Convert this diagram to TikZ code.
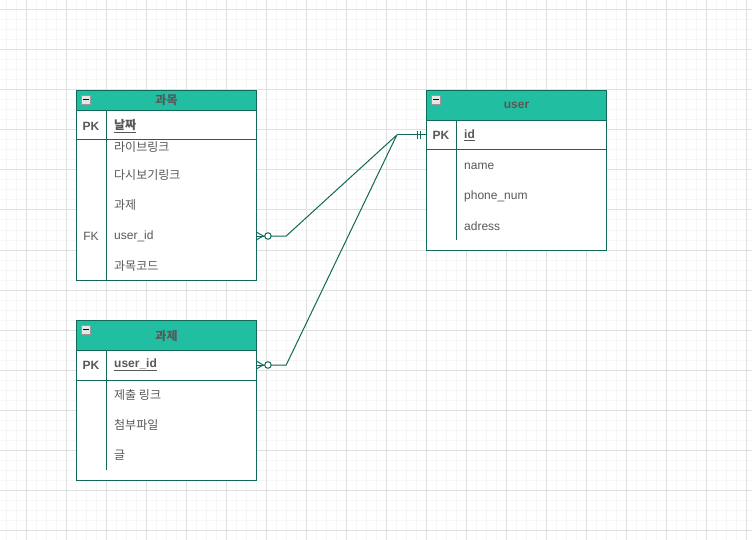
\documentclass[tikz,border=0pt]{standalone}
\usepackage{fontspec}
\setmainfont{Liberation Sans}
\newfontfamily\kr{Noto Sans CJK KR}
\definecolor{hc}{RGB}{34,190,161}
\definecolor{lc}{RGB}{16,104,86}
\definecolor{tc}{RGB}{88,88,88}
\definecolor{gmin}{RGB}{246,246,246}
\definecolor{gmaj}{RGB}{224,224,224}
\begin{document}
\begin{tikzpicture}[x=1pt,y=-1pt,
  ln/.style={draw=lc,line width=1pt},
  hdr/.style={fill=hc,draw=lc,line width=1pt,anchor=north west,minimum width=180pt,inner sep=0pt,text=tc,font=\fontsize{12}{14}\selectfont\bfseries},
  fld/.style={anchor=west,inner sep=0pt,text=tc,font=\fontsize{12}{14}\selectfont},
  key/.style={inner sep=0pt,text=tc,font=\fontsize{12}{14}\selectfont},
  rowmark/.style={minimum width=180pt,minimum height=30pt,inner sep=0pt},
  conn/.style={draw=lc,line width=1pt},
  icon/.style={draw=gray!80,fill=gray!20,line width=0.6pt,minimum size=9pt,inner sep=0pt,anchor=north west}
]
\useasboundingbox (0,0) rectangle (752,540);
\fill[white] (0,0) rectangle (752,540);
% grid
\foreach \x in {6,16,...,746} \draw[gmin,line width=1pt] (\x,0) -- (\x,540);
\foreach \y in {0,10,...,540} \draw[gmin,line width=1pt] (0,\y) -- (752,\y);
\foreach \x in {26,66,...,746} \draw[gmaj,line width=1pt] (\x,0) -- (\x,540);
\foreach \y in {10,50,...,530} \draw[gmaj,line width=1pt] (0,\y) -- (752,\y);

% ---------- Table 과목 ----------
\node[ln,fill=white,anchor=north west,minimum width=180pt,minimum height=190pt,inner sep=0pt] (t1) at (76,90) {};
\node[hdr,minimum height=20pt] (t1h) at (76,90) {\kr 과목};
\node[icon] (t1i) at (81,95) {};
\draw[black,line width=1.2pt] ([xshift=2pt]t1i.west) -- ([xshift=-2pt]t1i.east);
\draw[ln] (76,140) -- (256,140);
\draw[ln] (106,110) -- (106,280);
\node[key,font=\fontsize{12}{14}\selectfont\bfseries] (t1pk) at (91,126) {PK};
\node[fld,font=\fontsize{12}{14}\selectfont\bfseries] (t1f0) at (114,126) {\kr\underline{날짜}};
\node[fld] (t1f1) at (114,147) {\kr 라이브링크};
\node[fld] (t1f2) at (114,175) {\kr 다시보기링크};
\node[fld] (t1f3) at (114,205) {\kr 과제};
\node[key] (t1fk) at (91,236) {FK};
\node[fld] (t1f4) at (114,236) {user\_id};
\node[fld] (t1f5) at (114,266) {\kr 과목코드};
\node[rowmark] (t1uid) at (166,236) {};

% ---------- Table user ----------
\node[ln,fill=white,anchor=north west,minimum width=180pt,minimum height=160pt,inner sep=0pt] (t2) at (426,90) {};
\node[hdr,minimum height=30pt] (t2h) at (426,90) {user};
\node[icon] (t2i) at (431,95) {};
\draw[black,line width=1.2pt] ([xshift=2pt]t2i.west) -- ([xshift=-2pt]t2i.east);
\draw[ln] (426,150) -- (606,150);
\draw[ln] (456,120) -- (456,240);
\node[key,font=\fontsize{12}{14}\selectfont\bfseries] (t2pk) at (441,135) {PK};
\node[fld,font=\fontsize{12}{14}\selectfont\bfseries] (t2f0) at (464,135) {\underline{id}};
\node[fld] (t2f1) at (464,166) {name};
\node[fld] (t2f2) at (464,196) {phone\_num};
\node[fld] (t2f3) at (464,226) {adress};
\node[rowmark] (uidrow) at (516,135) {};

% ---------- Table 과제 ----------
\node[ln,fill=white,anchor=north west,minimum width=180pt,minimum height=160pt,inner sep=0pt] (t3) at (76,320) {};
\node[hdr,minimum height=30pt] (t3h) at (76,320) {\kr 과제};
\node[icon] (t3i) at (81,325) {};
\draw[black,line width=1.2pt] ([xshift=2pt]t3i.west) -- ([xshift=-2pt]t3i.east);
\draw[ln] (76,380) -- (256,380);
\draw[ln] (106,350) -- (106,470);
\node[key,font=\fontsize{12}{14}\selectfont\bfseries] (t3pk) at (91,365) {PK};
\node[fld,font=\fontsize{12}{14}\selectfont\bfseries] (t3f0) at (114,365) {\underline{user\_id}};
\node[fld] (t3f1) at (114,395) {\kr 제출 링크};
\node[fld] (t3f2) at (114,425) {\kr 첨부파일};
\node[fld] (t3f3) at (114,455) {\kr 글};
\node[rowmark] (t3uid) at (166,365) {};

% ---------- connectors ----------
\coordinate (j) at ([xshift=-29pt]uidrow.west);
\draw[conn] ([xshift=15pt]t1uid.east) -- ([xshift=30pt]t1uid.east) -- (j);
\draw[conn] ([xshift=15pt]t3uid.east) -- ([xshift=30pt]t3uid.east) -- (j);
\draw[conn] (j) -- (uidrow.west);
% one-and-only-one bars
\draw[conn] ([xshift=-8pt,yshift=4pt]uidrow.west) -- ([xshift=-8pt,yshift=-4pt]uidrow.west);
\draw[conn] ([xshift=-5pt,yshift=4pt]uidrow.west) -- ([xshift=-5pt,yshift=-4pt]uidrow.west);
% zero-or-many ends
\foreach \r in {t1uid,t3uid}{
  \draw[conn] ([yshift=4pt]\r.east) -- ([xshift=7pt]\r.east) -- ([yshift=-4pt]\r.east);
  \draw[conn] (\r.east) -- ([xshift=8.5pt]\r.east);
  \draw[conn,fill=white] ([xshift=11.75pt]\r.east) circle (3.25pt);
}
\end{tikzpicture}
\end{document}
